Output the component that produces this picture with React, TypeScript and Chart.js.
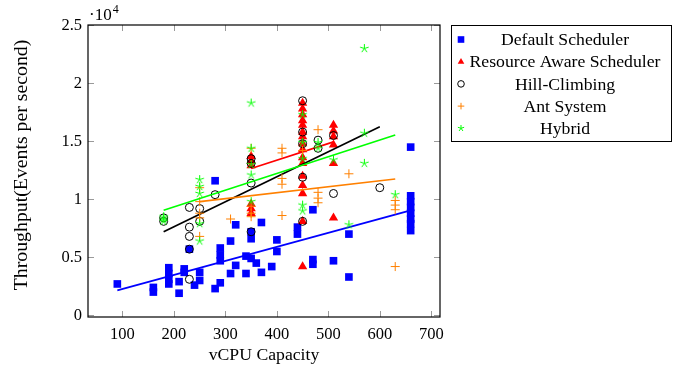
import React, { useEffect, useRef } from 'react';
import { Chart, registerables } from 'chart.js';

Chart.register(...registerables);

const FONT = '"Liberation Serif", "Times New Roman", serif';

// ---------- data ----------
const seriesNames = ['Default Scheduler', 'Resource Aware Scheduler', 'Hill-Climbing', 'Ant System', 'Hybrid'];
const seriesColors = ['#0000ff', '#ff0000', '#000000', '#ff8000', '#00ff00'];

const xTicks = [100, 200, 300, 400, 500, 600, 700];
const yTicks = [0, 5000, 10000, 15000, 20000, 25000];
const yTickLabels = ['0', '0.5', '1', '1.5', '2', '2.5'];

const xTitle = 'vCPU Capacity';
const yTitle = 'Throughput(Events per second)';

const defaultX = [90, 160, 160, 190, 190, 190, 190, 210, 210, 220, 220, 230, 240, 250, 250, 280, 280, 290, 290, 290, 290, 310, 310, 320, 320, 340, 340, 350, 350, 350, 360, 370, 370, 390, 400, 400, 440, 440, 470, 470, 470, 510, 540, 540, 660, 660, 660, 660, 660, 660, 660, 660];
const defaultY = [2700, 2400, 2000, 4100, 3600, 3100, 2700, 2900, 1900, 4000, 3700, 5700, 2600, 3700, 3000, 11600, 2300, 5800, 5200, 4700, 2800, 6400, 3600, 7800, 4300, 5100, 3600, 7200, 6600, 4900, 4500, 8000, 3700, 4200, 6500, 5500, 7600, 7000, 9100, 4800, 4400, 4700, 7000, 3300, 14500, 10300, 9800, 9300, 8800, 8300, 7900, 7300];

const resAwareX = [350, 350, 350, 350, 350, 350, 450, 450, 450, 450, 450, 450, 450, 450, 450, 450, 450, 450, 450, 450, 450, 450, 510, 510, 510, 510, 510, 510];
const resAwareY = [13700, 13300, 12900, 9600, 9200, 8800, 18300, 17800, 17300, 16800, 16400, 15800, 15400, 14800, 14300, 13600, 13100, 12000, 11200, 10500, 8100, 4200, 16400, 15900, 15400, 14700, 13100, 8400];

const hillX = [180, 180, 230, 230, 230, 230, 230, 250, 250, 280, 350, 350, 350, 350, 450, 450, 450, 450, 450, 480, 480, 510, 510, 600];
const hillY = [8400, 8100, 9300, 7600, 6800, 5700, 3100, 9200, 8100, 10400, 13500, 13100, 11400, 7200, 18500, 15800, 14800, 11900, 8100, 15100, 14400, 15500, 10500, 11000];

const antX = [250, 250, 250, 250, 250, 310, 350, 350, 350, 350, 410, 410, 410, 410, 410, 450, 480, 480, 480, 480, 540, 630, 630, 630, 630];
const antY = [11000, 9800, 8800, 8400, 6800, 8300, 14400, 9400, 8800, 8500, 14400, 14000, 11800, 11300, 8600, 14200, 16000, 10600, 10100, 9700, 12200, 9900, 9500, 9100, 4200];

const hybridX = [180, 180, 180, 250, 250, 250, 250, 250, 350, 350, 350, 350, 350, 450, 450, 450, 450, 450, 480, 480, 510, 540, 570, 570, 570, 630];
const hybridY = [8500, 8300, 8100, 11700, 11100, 10500, 7900, 6400, 18300, 14400, 13000, 12100, 9800, 17300, 14900, 13500, 9500, 9000, 14900, 14400, 13400, 7800, 23000, 15700, 13100, 10400];

// linear trend lines (start / end), one per series
const trendX0 = [90, 350, 180, 250, 180];
const trendX1 = [660, 510, 600, 630, 630];
const trendY0 = [2150, 12650, 7200, 9800, 9050];
const trendY1 = [9050, 14950, 16250, 11750, 15550];

// ---------- helpers ----------
const pts = (xs: number[], ys: number[]) => xs.map((x, i) => ({ x, y: ys[i] }));

function makeStar(color: string, r: number): HTMLCanvasElement {
  const size = Math.ceil(r * 2 + 2);
  const c = document.createElement('canvas');
  c.width = size;
  c.height = size;
  const g = c.getContext('2d')!;
  g.strokeStyle = color;
  g.lineWidth = 1;
  g.beginPath();
  for (let k = 0; k < 5; k++) {
    const a = -Math.PI / 2 + (k * 2 * Math.PI) / 5;
    g.moveTo(size / 2, size / 2);
    g.lineTo(size / 2 + Math.cos(a) * r, size / 2 + Math.sin(a) * r);
  }
  g.stroke();
  return c;
}

function drawMarker(ctx: CanvasRenderingContext2D, idx: number, x: number, y: number, s: number) {
  const col = seriesColors[idx];
  ctx.save();
  ctx.fillStyle = col;
  ctx.strokeStyle = col;
  ctx.lineWidth = 1;
  if (idx === 0) {
    ctx.fillRect(x - s, y - s, 2 * s, 2 * s);
  } else if (idx === 1) {
    ctx.beginPath();
    ctx.moveTo(x, y - s * 1.15);
    ctx.lineTo(x + s, y + s * 0.6);
    ctx.lineTo(x - s, y + s * 0.6);
    ctx.closePath();
    ctx.fill();
  } else if (idx === 2) {
    ctx.beginPath();
    ctx.arc(x, y, s, 0, Math.PI * 2);
    ctx.stroke();
  } else if (idx === 3) {
    ctx.beginPath();
    ctx.moveTo(x - s, y);
    ctx.lineTo(x + s, y);
    ctx.moveTo(x, y - s);
    ctx.lineTo(x, y + s);
    ctx.stroke();
  } else {
    ctx.beginPath();
    for (let k = 0; k < 5; k++) {
      const a = -Math.PI / 2 + (k * 2 * Math.PI) / 5;
      ctx.moveTo(x, y);
      ctx.lineTo(x + Math.cos(a) * s, y + Math.sin(a) * s);
    }
    ctx.stroke();
  }
  ctx.restore();
}

const decorPlugin = {
  id: 'decor',
  afterDatasetsDraw(chart: any) {
    const { ctx, chartArea: a, scales } = chart;
    ctx.save();
    // inward tick marks on all four sides
    ctx.strokeStyle = '#9a9a9a';
    ctx.lineWidth = 1;
    ctx.beginPath();
    const tl = 6;
    xTicks.forEach((v) => {
      const px = Math.round(scales.x.getPixelForValue(v)) + 0.5;
      ctx.moveTo(px, a.bottom);
      ctx.lineTo(px, a.bottom - tl);
      ctx.moveTo(px, a.top);
      ctx.lineTo(px, a.top + tl);
    });
    yTicks.forEach((v) => {
      const py = Math.round(scales.y.getPixelForValue(v)) + 0.5;
      ctx.moveTo(a.left, py);
      ctx.lineTo(a.left + tl, py);
      ctx.moveTo(a.right, py);
      ctx.lineTo(a.right - tl, py);
    });
    ctx.stroke();
    // frame
    ctx.strokeStyle = '#000';
    ctx.lineWidth = 1.2;
    ctx.strokeRect(a.left, a.top, a.right - a.left, a.bottom - a.top);

    // scale factor label
    ctx.fillStyle = '#000';
    ctx.textBaseline = 'alphabetic';
    ctx.textAlign = 'left';
    ctx.font = `17px ${FONT}`;
    ctx.fillText('\u00b710', a.left + 1, 20);
    const w = ctx.measureText('\u00b710').width;
    ctx.font = `12px ${FONT}`;
    ctx.fillText('4', a.left + 1 + w + 1, 13);

    // y axis title
    ctx.save();
    ctx.translate(22, 165);
    ctx.rotate(-Math.PI / 2);
    ctx.font = `19.8px ${FONT}`;
    ctx.textAlign = 'center';
    ctx.textBaseline = 'middle';
    ctx.fillText(yTitle, 0, 0);
    ctx.restore();

    // legend
    const lx = 451.5, ly = 25.5, lw = 220, lh = 116;
    ctx.fillStyle = '#fff';
    ctx.fillRect(lx, ly, lw, lh);
    ctx.strokeStyle = '#000';
    ctx.lineWidth = 1;
    ctx.strokeRect(lx, ly, lw, lh);
    ctx.font = `17.7px ${FONT}`;
    ctx.textAlign = 'center';
    ctx.textBaseline = 'middle';
    seriesNames.forEach((name, i) => {
      const y = 39.5 + i * 22.2;
      drawMarker(ctx, i, 461, y, 3.3);
      ctx.fillStyle = '#000';
      ctx.fillText(name, 565, y + 1);
    });
    ctx.restore();
  },
};

export default function App() {
  const ref = useRef<HTMLCanvasElement>(null);

  useEffect(() => {
    if (!ref.current) return;
    const star = makeStar(seriesColors[4], 4.5);
    const scatterStyles: any[] = [
      { pointStyle: 'rect', pointRadius: 5.4, backgroundColor: seriesColors[0], borderColor: seriesColors[0], borderWidth: 0 },
      { pointStyle: 'triangle', pointRadius: 5.4, backgroundColor: seriesColors[1], borderColor: seriesColors[1], borderWidth: 0 },
      { pointStyle: 'circle', pointRadius: 4, backgroundColor: 'rgba(0,0,0,0)', borderColor: seriesColors[2], borderWidth: 1 },
      { pointStyle: 'cross', pointRadius: 4.5, backgroundColor: seriesColors[3], borderColor: seriesColors[3], borderWidth: 1 },
      { pointStyle: star, pointRadius: 4.5, backgroundColor: seriesColors[4], borderColor: seriesColors[4], borderWidth: 1 },
    ];
    const xs = [defaultX, resAwareX, hillX, antX, hybridX];
    const ys = [defaultY, resAwareY, hillY, antY, hybridY];

    const datasets: any[] = [];
    for (let i = 0; i < 5; i++) {
      datasets.push({
        label: seriesNames[i],
        data: pts(xs[i], ys[i]),
        showLine: false,
        ...scatterStyles[i],
        pointBorderWidth: scatterStyles[i].borderWidth,
        pointHoverRadius: scatterStyles[i].pointRadius,
        order: 10 - i,
      });
      datasets.push({
        label: seriesNames[i] + ' trend',
        data: [
          { x: trendX0[i], y: trendY0[i] },
          { x: trendX1[i], y: trendY1[i] },
        ],
        showLine: true,
        pointRadius: 0,
        borderColor: seriesColors[i],
        borderWidth: 1.7,
        fill: false,
        order: 10 - i - 0.5,
      });
    }

    const chart = new Chart(ref.current, {
      type: 'scatter',
      data: { datasets },
      plugins: [decorPlugin],
      options: {
        responsive: false,
        animation: false,
        events: [],
        layout: { padding: { top: 25, right: 241, left: 0, bottom: 0 } },
        plugins: { legend: { display: false }, tooltip: { enabled: false } },
        scales: {
          x: {
            type: 'linear',
            min: 33,
            max: 717,
            afterBuildTicks: (s: any) => {
              s.ticks = xTicks.map((v) => ({ value: v }));
            },
            afterFit: (s: any) => {
              s.height = 52;
            },
            grid: { display: false, drawTicks: false },
            border: { display: false },
            ticks: {
              padding: 8,
              color: '#000',
              font: { family: FONT, size: 16.5 },
              maxRotation: 0,
              autoSkip: false,
            },
            title: {
              display: true,
              text: xTitle,
              color: '#000',
              font: { family: FONT, size: 17.7 },
              padding: { top: 0, bottom: 3 },
            },
          },
          y: {
            type: 'linear',
            min: -150,
            max: 25030,
            afterBuildTicks: (s: any) => {
              s.ticks = yTicks.map((v) => ({ value: v }));
            },
            afterFit: (s: any) => {
              s.width = 88;
            },
            grid: { display: false, drawTicks: false },
            border: { display: false },
            ticks: {
              padding: 6,
              color: '#000',
              font: { family: FONT, size: 16.5 },
              autoSkip: false,
              callback: (_v: any, i: number) => yTickLabels[i],
            },
          },
        },
      } as any,
    });
    return () => chart.destroy();
  }, []);

  return (
    <div style={{ position: 'absolute', left: 0, top: 0, width: 681, height: 369, background: '#fff' }}>
      <canvas ref={ref} width={681} height={369} style={{ width: 681, height: 369, display: 'block' }} />
    </div>
  );
}
